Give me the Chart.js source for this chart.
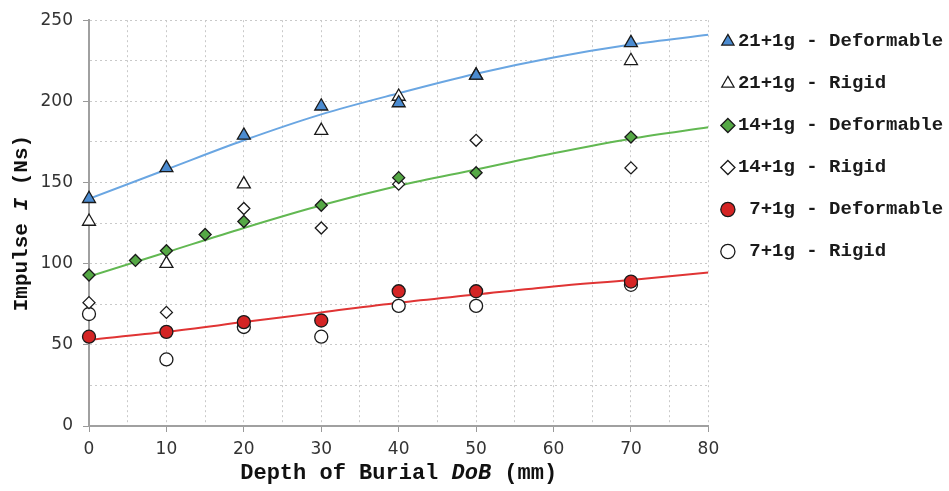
<!DOCTYPE html>
<html>
<head>
<meta charset="utf-8">
<script src="https://cdn.jsdelivr.net/npm/chart.js@4.4.1/dist/chart.umd.min.js"></script>
<style>
  html, body { margin: 0; padding: 0; background: #fff; }
  #wrap { width: 949px; height: 491px; }
</style>
</head>
<body>
<div id="wrap"><canvas id="impulseChart"></canvas></div>
<script>
// depth of burial (mm) and measured impulse (Ns)
const dob = [0, 10, 20, 30, 40, 50, 70];
const dob14Def = [0, 6, 10, 15, 20, 30, 40, 50, 70];

const imp21Def = [140, 159, 179, 197, 199, 216, 236];
const imp21Rigid = [126, 100, 149, 182, 203, 216, 225];
const imp14Def = [93, 102, 108, 118, 126, 136, 153, 156, 178];
const imp14Rigid = [76, 70, 134, 122, 149, 176, 159];
const imp7Def = [55, 58, 64, 65, 83, 83, 89];
const imp7Rigid = [69, 41, 61, 55, 74, 74, 87];

// fitted trend curves
const fitDob = [0, 10, 20, 30, 40, 50, 60, 70, 80];
const fit21 = [140, 158, 176, 192, 205, 217, 227, 235, 241];
const fit14 = [92, 107, 122, 136, 148, 158, 168, 177, 184];
const fit7 = [53, 58, 64, 70, 76, 81, 86, 90, 94.5];

// the 7+1g labels carry a leading space so they line up in the mono font
const legendLabels = ['21+1g - Deformable', '21+1g - Rigid', '14+1g - Deformable',
                      '14+1g - Rigid', ' 7+1g - Deformable', ' 7+1g - Rigid'];

const mono = "'Liberation Mono', 'Courier New', monospace";
const sans = "'DejaVu Sans', Verdana, sans-serif";

function pts(xs, ys) {
  return ys.map((y, i) => ({ x: xs[i], y: y }));
}

function markerSet(label, xs, ys, shape, fill, radius) {
  return {
    type: 'scatter',
    label: label,
    data: pts(xs, ys),
    pointStyle: shape,
    pointRadius: radius,
    pointHoverRadius: radius,
    backgroundColor: fill,
    borderColor: '#1a1a1a',
    borderWidth: 1.3,
    clip: false
  };
}

function fitSet(ys, color) {
  return {
    type: 'line',
    label: 'fit',
    data: pts(fitDob, ys),
    borderColor: color,
    borderWidth: 2,
    pointRadius: 0,
    fill: false,
    tension: 0.4,
    cubicInterpolationMode: 'monotone'
  };
}

// axis titles with italic parts
const axisTitles = {
  id: 'axisTitles',
  afterDraw(chart) {
    const ctx = chart.ctx;
    const area = chart.chartArea;
    const drawParts = (parts, size) => {
      const fonts = parts.map(p => (p[1] ? 'italic ' : '') + 'bold ' + size + 'px ' + mono);
      let total = 0;
      const widths = parts.map((p, i) => { ctx.font = fonts[i]; const w = ctx.measureText(p[0]).width; total += w; return w; });
      let x = -total / 2;
      parts.forEach((p, i) => {
        ctx.font = fonts[i];
        ctx.fillText(p[0], x, 0);
        x += widths[i];
      });
    };
    ctx.save();
    ctx.fillStyle = '#111';
    ctx.textBaseline = 'middle';
    ctx.textAlign = 'left';

    ctx.save();
    ctx.translate((area.left + area.right) / 2, 473);
    drawParts([['Depth of Burial ', false], ['DoB', true], [' (mm)', false]], 22);
    ctx.restore();

    ctx.save();
    ctx.translate(22, (area.top + area.bottom) / 2);
    ctx.rotate(-Math.PI / 2);
    drawParts([['Impulse ', false], ['I', true], [' (Ns)', false]], 21);
    ctx.restore();

    ctx.restore();
  }
};

new Chart(document.getElementById('impulseChart'), {
  type: 'scatter',
  data: {
    datasets: [
      markerSet(legendLabels[0], dob, imp21Def, 'triangle', '#4b8bd0', 7.5),
      markerSet(legendLabels[1], dob, imp21Rigid, 'triangle', '#ffffff', 7.5),
      markerSet(legendLabels[2], dob14Def, imp14Def, 'rectRot', '#55a845', 6),
      markerSet(legendLabels[3], dob, imp14Rigid, 'rectRot', '#ffffff', 6),
      markerSet(legendLabels[4], dob, imp7Def, 'circle', '#d42424', 6.5),
      markerSet(legendLabels[5], dob, imp7Rigid, 'circle', '#ffffff', 6.5),
      fitSet(fit21, '#6aa6e2'),
      fitSet(fit14, '#62b852'),
      fitSet(fit7, '#e03434')
    ]
  },
  options: {
    responsive: true,
    maintainAspectRatio: false,
    animation: false,
    layout: { padding: { top: 13, right: 4.5, bottom: 0, left: 0 } },
    plugins: {
      tooltip: { enabled: false },
      // empty title only reserves a few pixels above the plot
      title: { display: true, text: '', font: { size: 6, lineHeight: '6px' }, padding: 0 },
      legend: {
        position: 'right',
        align: 'start',
        labels: {
          usePointStyle: true,
          boxWidth: 1,
          boxHeight: 10,
          padding: 19,
          color: '#1a1a1a',
          font: { family: mono, size: 19, weight: 'bold', lineHeight: '23px' },
          filter: item => item.datasetIndex < 6,
          generateLabels(chart) {
            const items = Chart.defaults.plugins.legend.labels.generateLabels(chart);
            items.forEach(it => { it.text = [it.text]; it.lineWidth = 1.3; });
            return items;
          }
        }
      }
    },
    scales: {
      x: {
        type: 'linear',
        min: 0,
        max: 80,
        afterFit: s => { s.height = 65; },
        ticks: {
          stepSize: 5,
          autoSkip: false,
          maxRotation: 0,
          padding: 7,
          color: '#333',
          font: { family: sans, size: 17 },
          callback: v => (v % 10 === 0 ? v : '')
        },
        grid: {
          color: '#c9c9c9',
          lineWidth: 1,
          tickLength: 6,
          tickColor: c => (c.tick && c.tick.value % 10 === 0 ? '#999' : 'rgba(0,0,0,0)')
        },
        border: { display: true, color: '#a0a0a0', width: 2, dash: [2, 3] }
      },
      y: {
        min: 0,
        max: 250,
        afterFit: s => { s.width = 89; },
        ticks: {
          stepSize: 25,
          autoSkip: false,
          padding: 10,
          color: '#333',
          font: { family: sans, size: 17 },
          callback: v => (v % 50 === 0 ? v : '')
        },
        grid: {
          color: '#c9c9c9',
          lineWidth: 1,
          tickLength: 6,
          tickColor: c => (c.tick && c.tick.value % 50 === 0 ? '#999' : 'rgba(0,0,0,0)')
        },
        border: { display: true, color: '#a0a0a0', width: 2, dash: [2, 3] }
      }
    }
  },
  plugins: [axisTitles]
});
</script>
</body>
</html>
